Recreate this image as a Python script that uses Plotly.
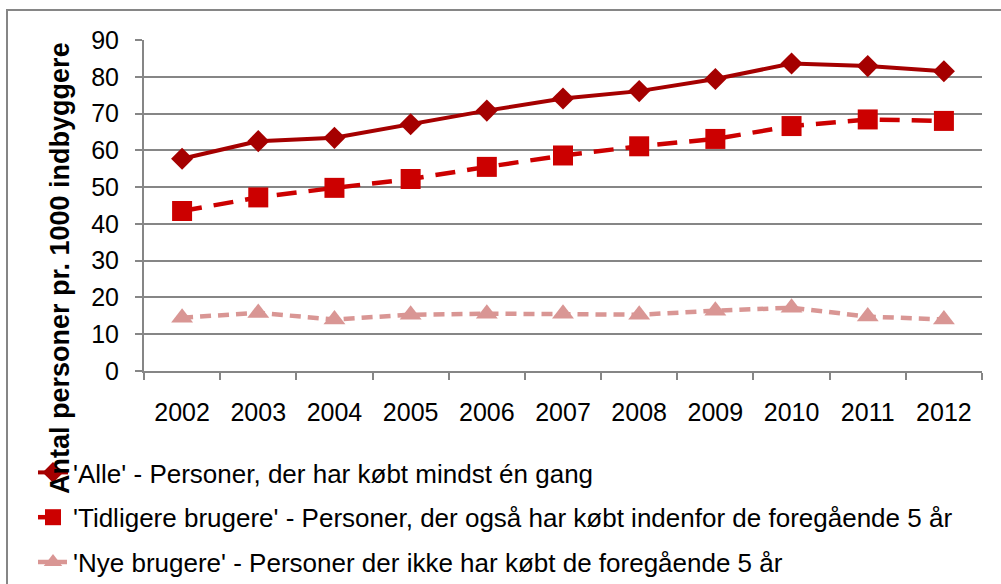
import plotly.graph_objects as go

years = ["2002", "2003", "2004", "2005", "2006", "2007", "2008", "2009", "2010", "2011", "2012"]
alle = [57.7, 62.5, 63.4, 67.1, 70.8, 74.1, 76.1, 79.4, 83.6, 82.9, 81.5]
tidligere = [43.5, 47.2, 49.8, 52.2, 55.5, 58.6, 61.1, 63.1, 66.6, 68.4, 68.0]
nye = [14.5, 15.8, 14.0, 15.3, 15.6, 15.6, 15.3, 16.4, 17.2, 14.8, 14.0]

names = [
    "'Alle' - Personer, der har købt mindst én gang",
    "'Tidligere brugere' - Personer, der også har købt indenfor de foregående 5 år",
    "'Nye brugere' - Personer der ikke har købt de foregående 5 år",
]
y_title = "Antal personer pr. 1000 indbyggere"

FONT = "Liberation Sans, Arial, sans-serif"
W, H = 1001, 584
L, R, T, B = 144, 19, 40, 213
pw, ph = W - L - R, H - T - B

def px_x(px):
    return (px - L) / pw

def px_y(py):
    return (H - B - py) / ph

fig = go.Figure()
fig.add_trace(go.Scatter(x=years, y=alle, name=names[0], mode="lines+markers",
                         line=dict(color="#A50000", width=4),
                         marker=dict(symbol="diamond", size=17, color="#A50000"),
                         legendgroup="a"))
fig.add_trace(go.Scatter(x=years, y=tidligere, name=names[1], mode="lines+markers",
                         line=dict(color="#CC0000", width=4.5, dash="20px,12px"),
                         marker=dict(symbol="square", size=20, color="#CC0000"),
                         legendgroup="b"))
fig.add_trace(go.Scatter(x=years, y=nye, name=names[2], mode="lines+markers",
                         line=dict(color="#D99694", width=4.5, dash="11px,7px"),
                         marker=dict(symbol="triangle-up", size=19, color="#D99694"),
                         legendgroup="c"))

fig.update_layout(
    width=W, height=H,
    margin=dict(l=L, r=R, t=T, b=B, autoexpand=False),
    paper_bgcolor="white", plot_bgcolor="white",
    font=dict(family=FONT, color="black", size=25),
    showlegend=True,
    legend=dict(x=px_x(33), xanchor="left", y=px_y(449), yanchor="top",
                font=dict(size=26, family=FONT), traceorder="grouped",
                tracegroupgap=8, bgcolor="rgba(0,0,0,0)"),
    xaxis=dict(type="category", range=[-0.5, len(years) - 0.5], autorange=False,
               showline=True, linecolor="#868686", linewidth=2,
               ticks="outside", ticklen=7, tickwidth=2, tickcolor="#868686",
               tickson="boundaries", showgrid=False, zeroline=False,
               tickfont=dict(size=25), ticklabelstandoff=18),
    yaxis=dict(range=[0, 90], dtick=10, showline=True, linecolor="#868686", linewidth=2,
               ticks="outside", ticklen=7, tickwidth=2, tickcolor="#868686",
               showgrid=True, gridcolor="#868686", gridwidth=2, zeroline=False,
               tickfont=dict(size=25), ticklabelstandoff=11),
    annotations=[dict(text="<b>" + y_title + "</b>", textangle=-90, xref="paper", yref="paper",
                      x=px_x(60), y=px_y(268), xanchor="center", yanchor="middle",
                      showarrow=False, font=dict(size=27, family=FONT))],
    shapes=[dict(type="rect", xref="paper", yref="paper",
                 x0=px_x(7), x1=px_x(1010), y0=px_y(10), y1=px_y(600),
                 line=dict(color="#868686", width=2), layer="below")],
)

fig.write_html("out.html", config={"displayModeBar": False},
               post_script="document.body.style.margin='0';document.body.style.overflow='hidden';")
